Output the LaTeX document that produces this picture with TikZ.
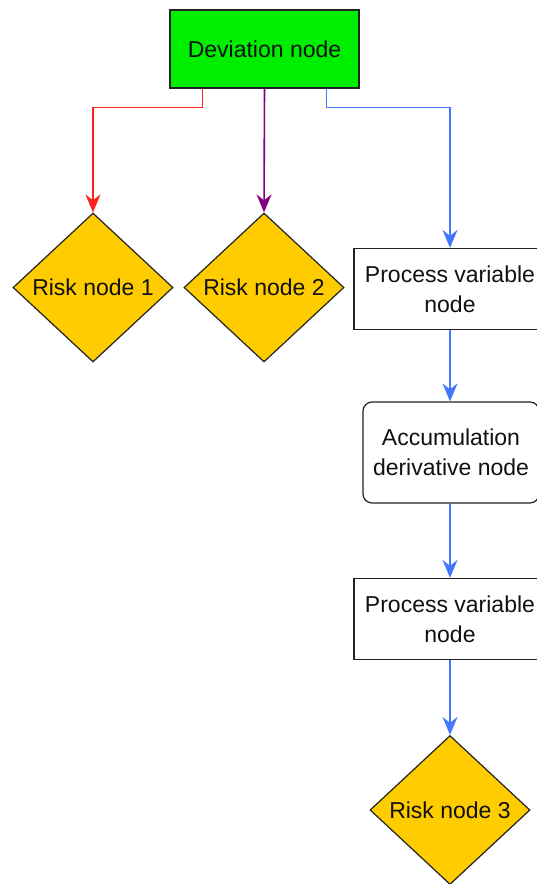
\documentclass[tikz,border=0pt]{standalone}
\usepackage{fontspec}
\setmainfont{Liberation Sans}
\usetikzlibrary{shapes.geometric,arrows.meta,positioning}

\definecolor{devgreen}{HTML}{00EE00}
\definecolor{riskyellow}{HTML}{FFCC00}
\definecolor{linkred}{HTML}{FF2020}
\definecolor{linkpurple}{HTML}{800080}
\definecolor{linkblue}{HTML}{4477FF}
\definecolor{edge}{HTML}{222222}
\definecolor{txt}{HTML}{111111}

\tikzset{
  base/.style={draw=edge, line width=1.2pt, text=txt, inner sep=0pt,
    font=\fontsize{23}{30}\selectfont, align=center},
  devbox/.style={base, rectangle, fill=devgreen, minimum width=189pt, minimum height=78pt},
  riskbox/.style={base, diamond, fill=riskyellow, aspect=1.06,
    minimum width=160pt, minimum height=149pt},
  pvbox/.style={base, rectangle, fill=white, minimum width=192pt, minimum height=81pt},
  accbox/.style={base, rectangle, rounded corners=9pt, fill=white,
    minimum width=176pt, minimum height=101pt},
  link/.style={line width=1.6pt, -{Stealth[length=18pt,width=15pt,inset=6pt]}},
}

\begin{document}
\begin{tikzpicture}[x=1pt,y=-1pt]
  \fill[white] (0,0) rectangle (537,884);
  \useasboundingbox (0,0) rectangle (537,884);

  % nodes
  \node[devbox]  (dev)  at (264.5,49)  {Deviation node};
  \node[riskbox] (r1)   at (93,287.5)  {Risk node 1};
  \node[riskbox] (r2)   at (264,287.5) {Risk node 2};
  \node[pvbox]   (pv1)  at (450,289)   {Process variable\\node};
  \node[accbox]  (acc)  at (451,452.5) {Accumulation\\derivative node};
  \node[pvbox]   (pv2)  at (450,619)   {Process variable\\node};
  \node[riskbox] (r3)   at (450,810)   {Risk node 3};

  % connectors
  \draw[link, linkred]    ([xshift=-62pt]dev.south) -- ++(0,19) -| (r1.north);
  \draw[link, linkpurple] (dev.south) -- (r2.north);
  \draw[link, linkblue]   ([xshift=62pt]dev.south) -- ++(0,19) -| (pv1.north);
  \draw[link, linkblue]   (pv1.south) -- (pv1.south |- acc.north);
  \draw[link, linkblue]   (acc.south -| pv2.north) -- (pv2.north);
  \draw[link, linkblue]   (pv2.south) -- (r3.north);
\end{tikzpicture}
\end{document}
